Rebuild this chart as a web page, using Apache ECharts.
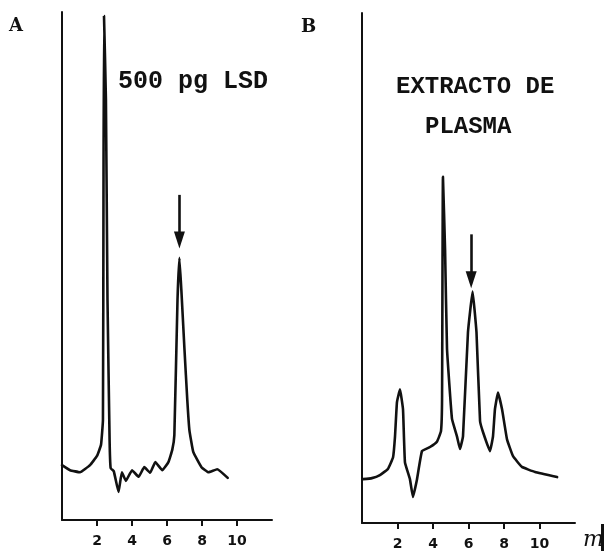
<!DOCTYPE html>
<html>
<head>
<meta charset="utf-8">
<script src="https://cdn.jsdelivr.net/npm/echarts@6/dist/echarts.min.js"></script>
<style>
  html, body { margin: 0; padding: 0; background: #ffffff; }
  #chart { width: 605px; height: 551px; }
</style>
</head>
<body>
<div id="chart"></div>
<script>
// Retention time (min) and detector response for trace A: 500 pg LSD standard
const timeA = [0, 0.46, 1.03, 1.6, 2.0, 2.23, 2.34, 2.37, 2.4, 2.51, 2.6, 2.72, 2.78, 2.96, 3.23, 3.42, 3.65, 4.0, 4.38, 4.7, 5.04, 5.33, 5.73, 6.08, 6.3, 6.42, 6.6, 6.71, 6.82, 7.0, 7.16, 7.28, 7.5, 7.97, 8.37, 8.87, 9.47];
const respA = [10.8, 9.8, 9.4, 10.8, 12.6, 14.8, 19.7, 63, 99.2, 82.7, 43.3, 15.7, 10.2, 9.6, 5.5, 9.4, 7.7, 9.8, 8.5, 10.4, 9.3, 11.4, 9.8, 11.4, 13.8, 16.7, 43.3, 51.6, 45.3, 33.5, 23.6, 17.7, 13.4, 10.4, 9.4, 10.0, 8.3];

// Retention time (min) and detector response for trace B: plasma extract
const timeB = [0.06, 0.56, 1.01, 1.46, 1.75, 1.86, 1.97, 2.14, 2.31, 2.42, 2.7, 2.87, 3.1, 3.38, 3.83, 4.23, 4.45, 4.51, 4.56, 4.68, 4.79, 5.07, 5.35, 5.52, 5.69, 5.97, 6.23, 6.45, 6.65, 6.82, 7.21, 7.38, 7.49, 7.66, 7.89, 8.17, 8.51, 9.01, 9.75, 10.99];
const respB = [8.6, 8.8, 9.4, 10.6, 12.9, 17.0, 23.7, 26.2, 22.3, 11.9, 8.6, 5.1, 8.6, 14.1, 14.9, 16.0, 18.0, 24.3, 67.9, 53.6, 34.1, 20.4, 17.0, 14.5, 17.0, 37.4, 45.4, 37.4, 20.0, 17.8, 14.1, 17.0, 22.3, 25.6, 22.3, 16.4, 13.1, 11.0, 10.0, 9.0];

// Time-axis tick labels
const timeTicks = [2, 4, 6, 8, 10];

// Arrows marking the LSD peak: [time, start response, tip response]
const arrowA = [6.71, 64, 55.1];
const arrowB = [6.15, 56.6, 47.7];

const pairs = (xs, ys) => xs.map((x, i) => [x, ys[i]]);

const ink = '#111111';

function timeAxis(gridIndex) {
  return {
    type: 'value', gridIndex, min: 0, max: 12, interval: 2,
    axisLine: { show: true, onZero: false, lineStyle: { color: ink, width: 2 } },
    axisTick: { show: true, customValues: timeTicks, length: 6, lineStyle: { color: ink, width: 2 } },
    axisLabel: {
      show: true, customValues: timeTicks, color: ink, fontSize: 14, fontWeight: 'bold',
      fontFamily: 'DejaVu Sans', margin: 14
    },
    splitLine: { show: false }
  };
}

function respAxis(gridIndex) {
  return {
    type: 'value', gridIndex, min: 0, max: 100,
    axisLine: { show: true, onZero: false, lineStyle: { color: ink, width: 2 } },
    axisTick: { show: false }, axisLabel: { show: false }, splitLine: { show: false }
  };
}

function trace(idx, xs, ys, arrow) {
  return {
    type: 'line', xAxisIndex: idx, yAxisIndex: idx,
    data: pairs(xs, ys), showSymbol: false, smooth: 0.1,
    lineStyle: { color: ink, width: 2.6, join: 'round', cap: 'round' },
    markLine: {
      silent: true, symbol: ['none', 'triangle'], symbolSize: [11, 17],
      label: { show: false },
      lineStyle: { color: ink, width: 2.6, type: 'solid' },
      data: [[{ coord: [arrow[0], arrow[1]] }, { coord: [arrow[0], arrow[2]] }]]
    }
  };
}

const typeFont = '"Liberation Mono", monospace';

const chart = echarts.init(document.getElementById('chart'));
chart.setOption({
  animation: false,
  backgroundColor: '#ffffff',
  grid: [
    { left: 62, top: 12, width: 210, height: 508 },
    { left: 362, top: 13, width: 213, height: 511 }
  ],
  xAxis: [timeAxis(0), timeAxis(1)],
  yAxis: [respAxis(0), respAxis(1)],
  series: [trace(0, timeA, respA, arrowA), trace(1, timeB, respB, arrowB)],
  graphic: [
    { type: 'text', left: 9, top: 17, style: { text: 'A', font: 'bold 18px "DejaVu Serif"', fill: ink } },
    { type: 'text', left: 301, top: 18, style: { text: 'B', font: 'bold 18px "DejaVu Serif"', fill: ink } },
    { type: 'text', left: 118, top: 69, style: { text: '500 pg LSD', font: 'bold 25px ' + typeFont, fill: ink } },
    { type: 'text', left: 396, top: 75, style: { text: 'EXTRACTO DE', font: 'bold 24px ' + typeFont, fill: ink } },
    { type: 'text', left: 425, top: 115, style: { text: 'PLASMA', font: 'bold 24px ' + typeFont, fill: ink } },
    { type: 'text', left: 583, top: 529, style: { text: 'm', font: 'italic 22px "DejaVu Serif"', fill: ink } },
    { type: 'rect', left: 601, top: 524, shape: { width: 3, height: 27 }, style: { fill: ink } }
  ]
});
</script>
</body>
</html>
